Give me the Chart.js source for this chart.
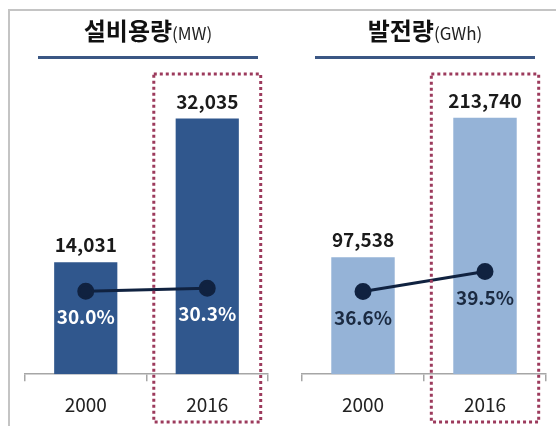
<!DOCTYPE html>
<html>
<head>
<meta charset="utf-8">
<script src="https://cdn.jsdelivr.net/npm/chart.js@4/dist/chart.umd.min.js"></script>
<style>
  body { margin: 0; width: 556px; height: 426px; background: #fff; overflow: hidden; position: relative; font-family: "Noto Sans CJK KR", "Noto Sans", sans-serif; }
  .frame { position: absolute; left: 8px; top: 9px; width: 600px; height: 500px; border-left: 2px solid #C4C4C4; border-top: 2px solid #C4C4C4; }
  .panel { position: absolute; top: 0; width: 278px; height: 446px; }
  .title { position: absolute; top: 12px; text-align: center; font-weight: bold; font-size: 24px; color: #111; white-space: nowrap; }
  .title small { font-size: 17px; font-weight: normal; color: #222; }
  .rule { position: absolute; top: 56px; height: 3px; background: #3B5784; }
  canvas { position: absolute; left: 0; top: 0; }
</style>
</head>
<body>
<div class="frame"></div>

<div class="panel" style="left:0">
  <canvas id="capChart" width="278" height="446"></canvas>
  <div class="title" style="left:38px;width:220px">설비용량<small>(MW)</small></div>
  <div class="rule" style="left:38px;width:220px"></div>
</div>

<div class="panel" style="left:278px">
  <canvas id="genChart" width="278" height="446"></canvas>
  <div class="title" style="left:37px;width:220px">발전량<small>(GWh)</small></div>
  <div class="rule" style="left:37px;width:220px"></div>
</div>

<script>
// data
const years = ['2000', '2016'];
const capacityMW = [14031, 32035];
const capacityShare = [30.0, 30.3];
const generationGWh = [97538, 213740];
const generationShare = [36.6, 39.5];
const highlightYear = '2016';

// value labels above bars, % labels under points
const labelPlugin = {
  id: 'labels',
  afterDatasetsDraw(chart, args, opts) {
    const ctx = chart.ctx;
    ctx.save();
    ctx.textAlign = 'center';
    ctx.textBaseline = 'middle';
    const barMeta = chart.getDatasetMeta(0);
    ctx.font = 'bold 19px "Noto Sans CJK KR", "Noto Sans", sans-serif';
    ctx.fillStyle = '#1a1a1a';
    barMeta.data.forEach((bar, i) => {
      const v = chart.data.datasets[0].data[i];
      ctx.fillText(v.toLocaleString('en-US'), bar.x, bar.y - 17);
    });
    const lineMeta = chart.getDatasetMeta(1);
    ctx.fillStyle = opts.pctColor;
    lineMeta.data.forEach((pt, i) => {
      const v = chart.data.datasets[1].data[i];
      ctx.fillText(v.toFixed(1) + '%', pt.x, pt.y + 26);
    });
    ctx.restore();
  },
  afterDraw(chart) {
    // dotted box around highlighted category
    const x = chart.scales.x;
    const idx = chart.data.labels.indexOf(highlightYear);
    const cx = x.getPixelForValue(idx);
    const half = x.width / chart.data.labels.length * 0.44;
    const ctx = chart.ctx;
    ctx.save();
    ctx.strokeStyle = '#9C3A5C';
    ctx.lineWidth = 3;
    ctx.setLineDash([3, 3]);
    ctx.strokeRect(cx - half, 74, half * 2, 348);
    ctx.restore();
  }
};

function makeChart(id, values, shares, barColor, pctColor, yMax, y1Min, y1Max, pad) {
  return new Chart(document.getElementById(id), {
    type: 'bar',
    data: {
      labels: years,
      datasets: [
        {
          type: 'bar',
          data: values,
          backgroundColor: barColor,
          categoryPercentage: 1,
          barPercentage: 0.52,
          order: 1
        },
        {
          type: 'line',
          data: shares,
          yAxisID: 'y1',
          borderColor: '#102240',
          borderWidth: 3,
          pointRadius: 7,
          pointBackgroundColor: '#102240',
          pointBorderColor: '#102240',
          order: 0
        }
      ]
    },
    options: {
      responsive: false,
      animation: false,
      events: [],
      layout: { padding: pad },
      plugins: {
        legend: { display: false },
        tooltip: { enabled: false },
        labels: { pctColor: pctColor }
      },
      scales: {
        x: {
          grid: { offset: true, drawOnChartArea: false, drawTicks: true, tickLength: 7, color: '#A6A6A6', lineWidth: 1.5 },
          border: { color: '#A6A6A6', width: 1.5 },
          ticks: { color: '#222', padding: 12, font: { size: 19, family: '"Noto Sans CJK KR", "Noto Sans", sans-serif' } }
        },
        y: { display: false, min: 0, max: yMax },
        y1: { display: false, min: y1Min, max: y1Max }
      }
    },
    plugins: [labelPlugin]
  });
}

makeChart('capChart', capacityMW, capacityShare, '#30578D', '#ffffff', 40000, 21.7, 53.6,
  { left: 25, right: 6, top: 55, bottom: 18 });
makeChart('genChart', generationGWh, generationShare, '#95B3D7', '#1B2A41', 266000, 24.6, 70.9,
  { left: 24, right: 8, top: 55, bottom: 18 });
</script>
</body>
</html>
